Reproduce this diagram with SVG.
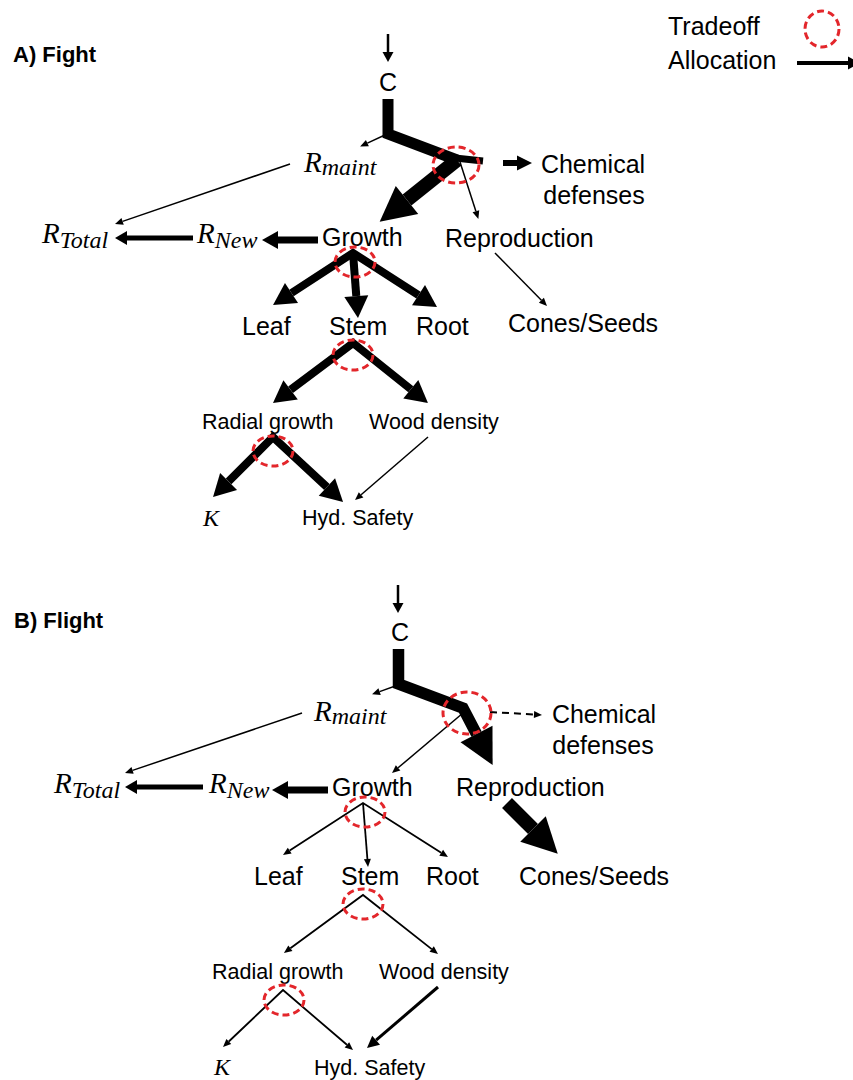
<svg xmlns="http://www.w3.org/2000/svg" width="853" height="1080" viewBox="0 0 853 1080">
<style>
.t{font-family:"Liberation Sans",Arial,sans-serif;font-size:25px;fill:#000}
.s{font-family:"Liberation Sans",Arial,sans-serif;font-size:21.5px;fill:#000}
.h{font-family:"Liberation Sans",Arial,sans-serif;font-size:22px;font-weight:bold;fill:#000}
.m{font-family:"Liberation Serif","Times New Roman",serif;font-style:italic;font-size:29px;fill:#000}
.sub{font-size:24px}
.k{font-family:"Liberation Serif","Times New Roman",serif;font-style:italic;font-size:24px;fill:#000}
.c line,.c path{stroke:#000;fill:none;stroke-linejoin:miter}
.to{fill:none;stroke:#e3262b;stroke-width:3;stroke-dasharray:7 4}
</style>
<defs>
<marker id="hs" markerUnits="userSpaceOnUse" orient="auto-start-reverse" refX="0" refY="0" overflow="visible"><path d="M0,-3.5 L8,0 L0,3.5 z" fill="#000"/></marker>
<marker id="hin" markerUnits="userSpaceOnUse" orient="auto-start-reverse" refX="0" refY="0" overflow="visible"><path d="M0,-5.5 L10,0 L0,5.5 z" fill="#000"/></marker>
<marker id="hchem" markerUnits="userSpaceOnUse" orient="auto-start-reverse" refX="0" refY="0" overflow="visible"><path d="M0,-7.5 L15,0 L0,7.5 z" fill="#000"/></marker>
<marker id="hnew" markerUnits="userSpaceOnUse" orient="auto-start-reverse" refX="0" refY="0" overflow="visible"><path d="M0,-7 L12,0 L0,7 z" fill="#000"/></marker>
<marker id="hgr" markerUnits="userSpaceOnUse" orient="auto-start-reverse" refX="0" refY="0" overflow="visible"><path d="M0,-9 L16,0 L0,9 z" fill="#000"/></marker>
<marker id="ht" markerUnits="userSpaceOnUse" orient="auto-start-reverse" refX="0" refY="0" overflow="visible"><path d="M0,-12 L22,0 L0,12 z" fill="#000"/></marker>
<marker id="hbig" markerUnits="userSpaceOnUse" orient="auto-start-reverse" refX="0" refY="0" overflow="visible"><path d="M0,-18 L35,0 L0,18 z" fill="#000"/></marker>
<marker id="hw" markerUnits="userSpaceOnUse" orient="auto-start-reverse" refX="0" refY="0" overflow="visible"><path d="M0,-6 L12,0 L0,6 z" fill="#000"/></marker>
<marker id="hleg" markerUnits="userSpaceOnUse" orient="auto-start-reverse" refX="0" refY="0" overflow="visible"><path d="M0,-6.5 L12,0 L0,6.5 z" fill="#000"/></marker>
</defs>
<rect width="853" height="1080" fill="#fff"/>

<g id="legend">
<text class="t" x="668" y="35">Tradeoff</text>
<text class="t" x="668" y="69">Allocation</text>
<ellipse class="to" cx="822" cy="29" rx="17" ry="18"/>
<line x1="797" y1="63" x2="848" y2="63" stroke="#000" stroke-width="4" marker-end="url(#hleg)"/>
</g>

<g id="titles">
<text class="h" x="13" y="62">A) Fight</text>
<text class="h" x="14" y="628">B) Flight</text>
</g>

<!-- Panel A nodes -->
<g id="a-C"><text class="t" x="388" y="91" text-anchor="middle">C</text></g>
<g id="a-rmaint"><text class="m" x="304" y="172">R<tspan class="sub" dy="3">maint</tspan></text></g>
<g id="a-chem"><text class="t" x="593" y="173" text-anchor="middle">Chemical</text><text class="t" x="594" y="204" text-anchor="middle">defenses</text></g>
<g id="a-rtotal"><text class="m" x="42" y="243">R<tspan class="sub" dy="5">Total</tspan></text></g>
<g id="a-rnew"><text class="m" x="197" y="243">R<tspan class="sub" dy="5">New</tspan></text></g>
<g id="a-growth"><text class="t" x="322" y="246">Growth</text></g>
<g id="a-repro"><text class="t" x="445" y="247">Reproduction</text></g>
<g id="a-cones"><text class="t" x="508" y="332">Cones/Seeds</text></g>
<g id="a-leaf"><text class="t" x="242" y="335">Leaf</text></g>
<g id="a-stem"><text class="t" x="329" y="335">Stem</text></g>
<g id="a-root"><text class="t" x="416" y="335">Root</text></g>
<g id="a-radial"><text class="s" x="202" y="429">Radial growth</text></g>
<g id="a-wood"><text class="s" x="369" y="429">Wood density</text></g>
<g id="a-k"><text class="k" x="203" y="526">K</text></g>
<g id="a-hyd"><text class="s" x="302" y="525">Hyd. Safety</text></g>

<!-- Panel B nodes -->
<g id="b-C"><text class="t" x="400" y="641" text-anchor="middle">C</text></g>
<g id="b-rmaint"><text class="m" x="314" y="721">R<tspan class="sub" dy="3">maint</tspan></text></g>
<g id="b-chem"><text class="t" x="604" y="723" text-anchor="middle">Chemical</text><text class="t" x="603" y="754" text-anchor="middle">defenses</text></g>
<g id="b-rtotal"><text class="m" x="54" y="793">R<tspan class="sub" dy="5">Total</tspan></text></g>
<g id="b-rnew"><text class="m" x="209" y="793">R<tspan class="sub" dy="5">New</tspan></text></g>
<g id="b-growth"><text class="t" x="332" y="796">Growth</text></g>
<g id="b-repro"><text class="t" x="456" y="796">Reproduction</text></g>
<g id="b-cones"><text class="t" x="519" y="885">Cones/Seeds</text></g>
<g id="b-leaf"><text class="t" x="254" y="885">Leaf</text></g>
<g id="b-stem"><text class="t" x="341" y="885">Stem</text></g>
<g id="b-root"><text class="t" x="426" y="885">Root</text></g>
<g id="b-radial"><text class="s" x="212" y="979">Radial growth</text></g>
<g id="b-wood"><text class="s" x="379" y="979">Wood density</text></g>
<g id="b-k"><text class="k" x="214" y="1075">K</text></g>
<g id="b-hyd"><text class="s" x="314" y="1075">Hyd. Safety</text></g>

<g id="connectors" class="c">
<!-- A -->
<line x1="388" y1="34" x2="388" y2="52" stroke-width="2.5" marker-end="url(#hin)"/>
<path d="M388,99 L388,134 L457,160" stroke-width="11"/>
<path d="M455,158 L483,161" stroke-width="7"/>
<line x1="503" y1="163" x2="517" y2="163" stroke-width="6" marker-end="url(#hchem)"/>
<line x1="387" y1="134" x2="367.4" y2="143.1" stroke-width="1.5" marker-end="url(#hs)"/>
<line x1="457" y1="160" x2="407" y2="200" stroke-width="14" marker-end="url(#hbig)"/>
<line x1="460" y1="162" x2="475.9" y2="211.3" stroke-width="1.5" marker-end="url(#hs)"/>
<line x1="290" y1="164" x2="122.6" y2="221.4" stroke-width="1.5" marker-end="url(#hs)"/>
<line x1="193" y1="238" x2="127" y2="238" stroke-width="5" marker-end="url(#hnew)"/>
<line x1="318" y1="240" x2="278" y2="240" stroke-width="7" marker-end="url(#hgr)"/>
<line x1="495" y1="253" x2="541.4" y2="300.3" stroke-width="1.5" marker-end="url(#hs)"/>
<path d="M291.5,293 L353,253 L418.5,295.1" stroke-width="8" marker-start="url(#ht)" marker-end="url(#ht)"/>
<line x1="353" y1="253" x2="356.3" y2="296.1" stroke-width="8" marker-end="url(#ht)"/>
<path d="M290.6,389.8 L353,343 L410.8,389.25" stroke-width="8" marker-start="url(#ht)" marker-end="url(#ht)"/>
<path d="M228.6,481.4 L273,437 L326.9,487" stroke-width="8" marker-start="url(#ht)" marker-end="url(#ht)"/>
<line x1="428" y1="437" x2="361.1" y2="494.8" stroke-width="1.5" marker-end="url(#hs)"/>
<!-- B -->
<line x1="398" y1="585" x2="398" y2="603" stroke-width="2.5" marker-end="url(#hin)"/>
<path d="M398.5,649 L398.5,684 L463,708 L476.5,734" stroke-width="11.5" marker-end="url(#hbig)"/>
<line x1="490" y1="712" x2="534" y2="714.5" stroke-width="2" stroke-dasharray="7 5" marker-end="url(#hs)"/>
<line x1="463" y1="713" x2="398.1" y2="767.8" stroke-width="1.5" marker-end="url(#hs)"/>
<line x1="398" y1="685" x2="379.6" y2="691.6" stroke-width="1.5" marker-end="url(#hs)"/>
<line x1="302" y1="713" x2="132.6" y2="770.4" stroke-width="1.5" marker-end="url(#hs)"/>
<line x1="203" y1="787" x2="137" y2="787" stroke-width="5" marker-end="url(#hnew)"/>
<line x1="328" y1="790" x2="288" y2="790" stroke-width="7" marker-end="url(#hgr)"/>
<line x1="507" y1="803" x2="533" y2="829" stroke-width="14" marker-end="url(#hbig)"/>
<path d="M289.7,850.6 L363,803 L441.2,852.7" stroke-width="1.8" marker-start="url(#hs)" marker-end="url(#hs)"/>
<line x1="363" y1="803" x2="367.4" y2="859" stroke-width="1.8" marker-end="url(#hs)"/>
<path d="M290.4,948.3 L363,895 L431.7,949.1" stroke-width="1.8" marker-start="url(#hs)" marker-end="url(#hs)"/>
<path d="M228.8,1041.5 L283,990 L346.9,1044.8" stroke-width="1.8" marker-start="url(#hs)" marker-end="url(#hs)"/>
<line x1="438" y1="987" x2="376.1" y2="1040.2" stroke-width="3" marker-end="url(#hw)"/>
</g>

<g id="tradeoffs">
<ellipse class="to" cx="456" cy="165" rx="23" ry="18"/>
<ellipse class="to" cx="355" cy="262" rx="20" ry="15"/>
<ellipse class="to" cx="353" cy="355" rx="20" ry="15"/>
<ellipse class="to" cx="273" cy="451" rx="20" ry="15"/>
<ellipse class="to" cx="467" cy="713" rx="24" ry="21"/>
<ellipse class="to" cx="365" cy="812" rx="20" ry="15"/>
<ellipse class="to" cx="363" cy="904" rx="20" ry="15"/>
<ellipse class="to" cx="284" cy="1000" rx="20" ry="15"/>
</g>
</svg>
